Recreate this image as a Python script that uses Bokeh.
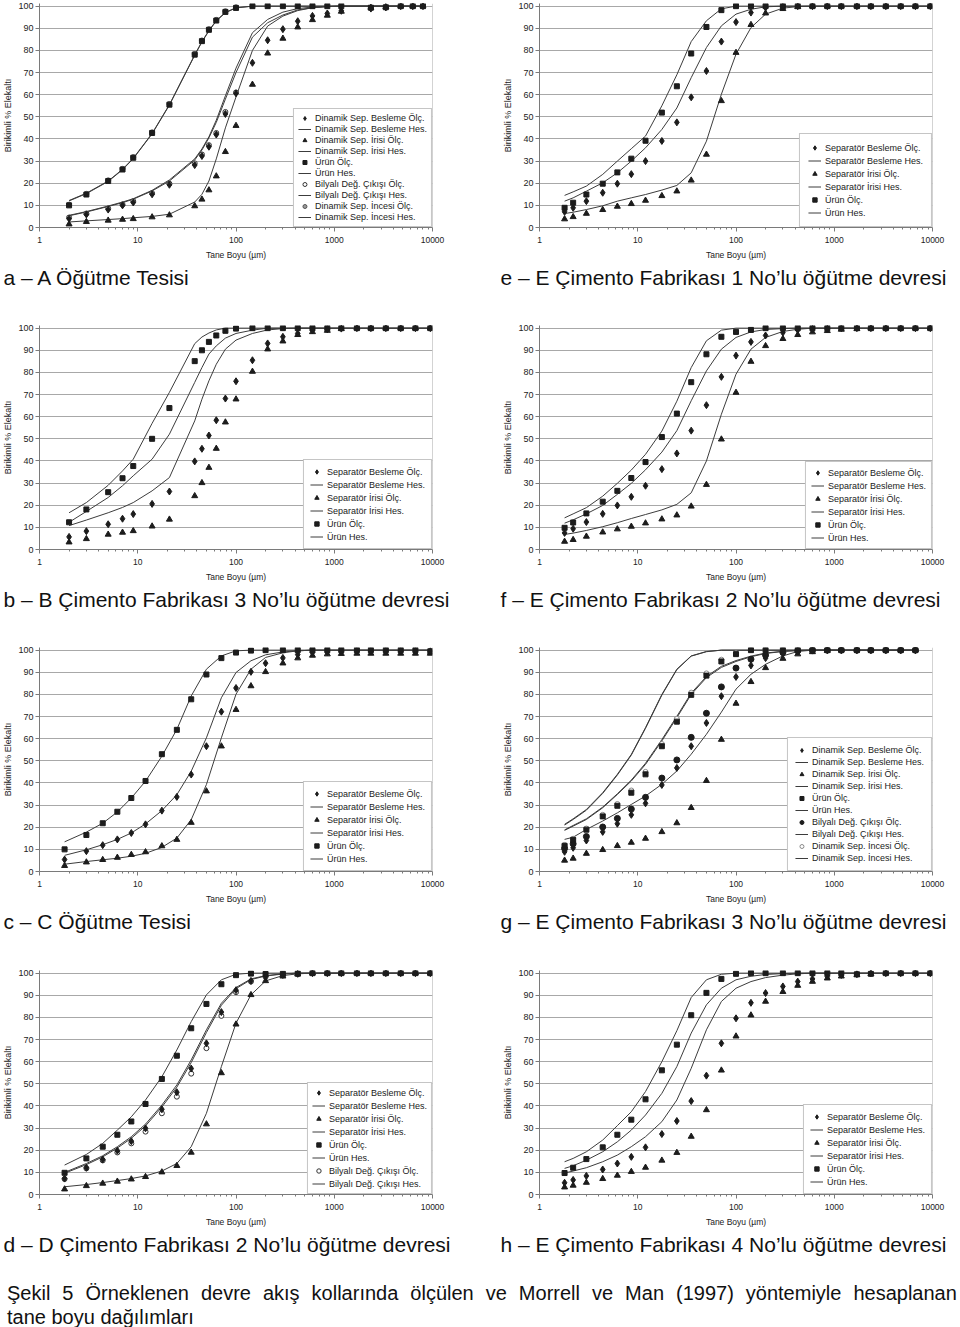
from bokeh.plotting import figure
from bokeh.models import (Range1d, FixedTicker, PrintfTickFormatter, Legend, LegendItem,
                          Span, Div)
from bokeh.layouts import column, row
from bokeh.embed import file_html
from bokeh.resources import INLINE

# ---------------- data ----------------
X_TICKS = [1, 10, 100, 1000, 10000]
Y_TICKS = [0, 10, 20, 30, 40, 50, 60, 70, 80, 90, 100]
X_LABEL = "Tane Boyu (µm)"
Y_LABEL = "Birikimli % Elekaltı"

# panel a
A_X = [2, 3, 5, 7, 9, 14, 21, 38, 45, 53, 63, 78, 100, 147, 210, 300, 425, 600, 850, 1180, 2360, 3350, 4750, 6300, 8000]
A_BES_O = [4.0, 5.9, 8.1, 10.0, 11.3, 15.0, 19.3, 28.2, 32.3, 36.5, 42.0, 51.3, 60.6, 74.4, 84.6, 89.6, 93.2, 95.6, 96.7, 97.9, 98.9, 99.4, 100, 100, 100]
A_IRI_O = [1.5, 2.6, 3.2, 3.6, 3.9, 4.7, 5.6, 9.7, 12.7, 16.9, 23.2, 34.2, 46.0, 64.6, 78.7, 85.4, 90.5, 93.8, 95.8, 97.6, 99.4, 99.7, 100, 100, 100]
A_URUN_O = [10.0, 14.9, 21.0, 26.2, 31.5, 42.7, 55.5, 78.1, 84.2, 89.3, 93.5, 97.4, 99.2, 100, 100, 100, 100, 100, 100, 100, 99.3, 99.5, 100, 100, 100]
A_BIL_X = [2, 3, 5, 7, 9, 14, 21, 38, 45, 53, 63, 78, 100]
A_BIL_O = [4.5, 6.3, 8.6, 10.4, 11.9, 15.5, 19.8, 29.0, 33.0, 37.2, 42.7, 52.2, 61.0]
A_INC_O = [10.3, 15.2, 21.3, 26.5, 31.8, 43.0, 55.8, 78.4, 84.5, 89.6, 93.8, 97.7, 99.5]
A_BES_H = [5.3, 7.0, 9.5, 11.2, 12.8, 16.5, 21.0, 30.5, 35.0, 40.5, 47.5, 58.0, 70.0, 86.0, 92.5, 96.0, 98.3, 99.3, 99.8, 100, 100, 100, 100, 100, 100]
A_BIL_H = [5.5, 7.2, 9.7, 11.5, 13.0, 16.8, 21.5, 31.0, 35.5, 41.0, 48.5, 59.5, 72.0, 88.0, 94.0, 97.3, 98.9, 99.6, 99.9, 100, 100, 100, 100, 100, 100]
A_IRI_H = [2.5, 3.0, 3.6, 4.0, 4.4, 5.0, 6.0, 11.5, 15.0, 21.0, 31.0, 45.0, 59.0, 80.0, 91.0, 95.5, 98.0, 99.3, 99.8, 100, 100, 100, 100, 100, 100]
A_URUN_H = [12.2, 15.5, 21.0, 26.3, 31.3, 42.5, 55.5, 78.0, 84.0, 89.0, 93.5, 97.2, 99.3, 100, 100, 100, 100, 100, 100, 100, 100, 100, 100, 100, 100]
A_INC_H = [12.0, 15.3, 20.8, 26.1, 31.1, 42.3, 55.3, 77.8, 83.8, 88.8, 93.3, 97.0, 99.2, 100, 100, 100, 100, 100, 100, 100, 100, 100, 100, 100, 100]

# panel e
E_X = [1.8, 2.2, 3, 4.4, 6.2, 8.6, 12, 17.6, 25, 35, 50, 71, 100, 142, 200, 300, 425, 600, 850, 1180, 1700, 2360, 3350, 4750, 6700, 9500]
E_BES_O = [7.1, 8.9, 11.9, 15.7, 19.8, 24.1, 30.0, 39.1, 47.5, 58.8, 70.7, 84.0, 92.8, 97.1, 99.4, 99.7, 100, 100, 100, 100, 100, 100, 100, 100, 100, 100]
E_IRI_O = [3.8, 4.8, 6.3, 8.0, 9.5, 10.7, 12.2, 14.3, 16.4, 21.3, 33.0, 57.2, 79.0, 91.6, 96.8, 98.8, 99.7, 100, 100, 100, 100, 100, 100, 100, 100, 100]
E_URUN_O = [8.9, 11.2, 14.9, 19.8, 24.9, 31.1, 39.2, 51.9, 63.8, 78.6, 90.6, 98.2, 100, 100, 100, 100, 100, 100, 100, 100, 100, 100, 100, 100, 100, 100]
E_BES_H = [11.9, 13.4, 16.4, 20.2, 24.7, 30.0, 36.0, 44.3, 54.0, 67.7, 81.3, 91.1, 96.4, 98.6, 99.7, 100, 100, 100, 100, 100, 100, 100, 100, 100, 100, 100]
E_IRI_H = [6.3, 6.9, 8.1, 9.8, 11.9, 13.4, 14.9, 16.9, 19.0, 24.7, 39.0, 60.2, 78.3, 90.3, 96.4, 99.1, 99.8, 100, 100, 100, 100, 100, 100, 100, 100, 100]
E_URUN_H = [14.5, 16.1, 18.7, 24.0, 30.0, 35.6, 41.3, 55.0, 69.0, 84.0, 93.4, 98.8, 100, 100, 100, 100, 100, 100, 100, 100, 100, 100, 100, 100, 100, 100]

# panel b
B_X = [2, 3, 5, 7, 9, 14, 21, 38, 45, 53, 63, 78, 100, 147, 210, 300, 425, 600, 850, 1180, 1700, 2360, 3350, 4750, 6700, 9500]
B_BES_O = [5.7, 8.3, 11.4, 13.9, 16.0, 20.6, 26.2, 39.8, 45.5, 51.5, 58.4, 68.2, 76.0, 85.5, 93.1, 96.1, 97.6, 99.1, 99.5, 99.8, 100, 100, 100, 100, 100, 100]
B_IRI_O = [3.3, 4.8, 6.8, 7.7, 8.4, 10.5, 13.6, 24.2, 30.1, 37.0, 45.6, 57.5, 67.9, 80.4, 90.5, 94.1, 97.0, 98.3, 98.9, 99.7, 100, 100, 100, 100, 100, 100]
B_URUN_O = [12.3, 18.1, 25.9, 32.2, 37.7, 50.0, 63.9, 85.1, 90.0, 93.8, 96.7, 98.8, 99.8, 100, 100, 100, 100, 100, 100, 100, 100, 100, 100, 100, 100, 100]
B_BES_H = [12.3, 17.2, 23.5, 28.8, 33.3, 40.8, 52.1, 75.5, 82.2, 88.3, 92.0, 95.5, 97.6, 99.1, 100, 100, 100, 100, 100, 100, 100, 100, 100, 100, 100, 100]
B_IRI_H = [10.8, 13.3, 16.6, 19.0, 21.2, 26.5, 32.5, 58.1, 67.9, 76.2, 83.7, 90.5, 94.6, 97.6, 99.2, 99.8, 100, 100, 100, 100, 100, 100, 100, 100, 100, 100]
B_URUN_H = [16.6, 21.2, 29.0, 35.5, 40.8, 57.0, 71.0, 93.0, 96.0, 97.8, 99.2, 100, 100, 100, 100, 100, 100, 100, 100, 100, 100, 100, 100, 100, 100, 100]

# panel f
F_X = [1.8, 2.2, 3, 4.4, 6.2, 8.6, 12, 17.6, 25, 35, 50, 71, 100, 142, 200, 300, 425, 600, 850, 1180, 1700, 2360, 3350, 4750, 6700, 9500]
F_BES_O = [7.5, 9.4, 12.4, 16.1, 19.9, 23.8, 28.8, 36.3, 43.4, 53.7, 65.2, 78.0, 87.6, 93.8, 96.7, 98.0, 99.2, 99.7, 99.8, 100, 100, 100, 100, 100, 100, 100]
F_IRI_O = [3.6, 4.4, 5.9, 7.8, 9.2, 10.4, 11.9, 13.7, 15.5, 19.5, 29.3, 49.8, 70.9, 84.9, 92.0, 95.2, 97.0, 98.2, 98.8, 99.4, 99.7, 100, 100, 100, 100, 100]
F_URUN_O = [9.8, 12.2, 16.3, 21.6, 26.5, 32.3, 39.5, 50.8, 61.4, 75.6, 88.2, 96.1, 98.3, 99.2, 100, 100, 100, 100, 100, 100, 100, 100, 100, 100, 100, 100]
F_BES_H = [11.9, 13.4, 16.1, 19.9, 24.9, 29.9, 36.0, 44.0, 53.7, 67.2, 80.7, 90.5, 95.8, 98.3, 99.4, 99.8, 100, 100, 100, 100, 100, 100, 100, 100, 100, 100]
F_IRI_H = [6.8, 7.4, 8.6, 10.3, 12.1, 14.0, 15.8, 17.9, 20.4, 25.6, 40.0, 61.1, 79.2, 90.5, 95.8, 98.5, 99.5, 100, 100, 100, 100, 100, 100, 100, 100, 100]
F_URUN_H = [14.3, 16.1, 18.9, 24.1, 29.9, 35.9, 43.0, 53.5, 67.0, 82.2, 94.3, 99.1, 100, 100, 100, 100, 100, 100, 100, 100, 100, 100, 100, 100, 100, 100]

# panel c
C_X = [1.8, 3, 4.4, 6.2, 8.6, 12, 17.6, 25, 35, 50, 71, 100, 142, 200, 300, 425, 600, 850, 1180, 1700, 2360, 3350, 4750, 6700, 9500]
C_BES_O = [5.4, 9.2, 11.9, 14.5, 17.4, 21.3, 27.5, 33.7, 43.8, 56.6, 72.2, 82.9, 90.2, 94.1, 96.5, 98.0, 98.9, 99.2, 99.4, 99.5, 99.5, 99.5, 99.5, 99.5, 99.5]
C_IRI_O = [2.6, 4.2, 5.3, 6.3, 7.6, 8.8, 11.5, 14.4, 22.1, 36.3, 56.6, 73.1, 83.8, 90.2, 94.1, 96.4, 97.6, 98.2, 98.4, 98.5, 98.5, 98.5, 98.5, 98.5, 98.5]
C_URUN_O = [10.0, 16.5, 21.8, 27.0, 33.2, 40.9, 53.0, 64.0, 77.8, 89.0, 96.4, 98.9, 99.8, 100, 100, 100, 100, 100, 100, 100, 100, 100, 100, 100, 99.5]
C_BES_H = [7.3, 9.8, 12.1, 14.5, 17.4, 21.5, 27.5, 34.7, 45.3, 60.4, 78.5, 89.9, 95.2, 97.9, 99.2, 99.7, 100, 100, 100, 100, 100, 100, 100, 100, 100]
C_IRI_H = [3.3, 4.5, 5.3, 6.0, 6.9, 8.2, 10.9, 15.1, 23.4, 39.3, 60.4, 80.1, 91.4, 96.7, 98.8, 99.7, 100, 100, 100, 100, 100, 100, 100, 100, 100]
C_URUN_H = [13.4, 17.8, 21.8, 26.9, 33.2, 40.8, 52.1, 64.2, 79.3, 91.4, 97.4, 99.7, 100, 100, 100, 100, 100, 100, 100, 100, 100, 100, 100, 100, 100]

# panel g
G_X = [1.8, 2.2, 3, 4.4, 6.2, 8.6, 12, 17.6, 25, 35, 50, 71, 100, 142, 200, 300, 425, 600, 850, 1180, 1700, 2360, 3350, 4750, 6700]
G_BES_O = [8.9, 10.7, 14.0, 17.9, 21.6, 25.6, 30.8, 39.1, 46.8, 56.6, 67.1, 79.2, 87.9, 93.1, 96.4, 98.5, 99.4, 99.8, 100, 100, 100, 100, 100, 100, 100]
G_IRI_O = [5.0, 5.9, 8.1, 9.8, 11.6, 13.1, 14.9, 17.9, 21.9, 28.8, 41.0, 59.6, 75.9, 85.7, 92.0, 96.2, 98.2, 99.2, 99.8, 100, 100, 100, 100, 100, 100]
G_URUN_O = [11.6, 14.3, 18.9, 24.9, 29.7, 35.6, 43.9, 56.6, 67.7, 79.8, 88.5, 94.9, 98.2, 100, 100, 100, 100, 100, 100, 100, 100, 100, 100, 100, 100]
G_BIL_O = [10.4, 12.5, 15.8, 20.1, 24.0, 28.2, 33.5, 42.2, 50.4, 60.6, 71.5, 83.4, 91.9, 95.9, 97.7, 98.9, 99.7, 100, 100, 100, 100, 100, 100, 100, 100]
G_INC_O = [12.0, 14.8, 19.4, 25.6, 30.5, 36.6, 45.0, 57.6, 69.0, 80.8, 89.5, 95.7, 98.6, 100, 100, 100, 100, 100, 100, 100, 100, 100, 100, 100, 100]
G_BES_H = [18.6, 20.5, 23.5, 28.8, 34.8, 40.9, 48.4, 59.0, 69.5, 80.0, 87.6, 92.2, 94.9, 97.0, 98.5, 99.4, 99.8, 100, 100, 100, 100, 100, 100, 100, 100]
G_BIL_H = [18.8, 20.8, 23.8, 29.1, 35.1, 41.3, 48.9, 59.6, 70.1, 80.6, 88.1, 92.7, 95.3, 97.3, 98.7, 99.5, 99.9, 100, 100, 100, 100, 100, 100, 100, 100]
G_IRI_H = [14.5, 15.5, 19.0, 22.8, 26.5, 30.3, 34.1, 39.4, 45.4, 53.0, 62.0, 72.0, 82.4, 89.1, 93.6, 97.4, 99.4, 100, 100, 100, 100, 100, 100, 100, 100]
G_URUN_H = [21.3, 23.8, 28.0, 35.6, 43.9, 52.9, 65.0, 80.0, 91.4, 97.4, 99.4, 100, 100, 100, 100, 100, 100, 100, 100, 100, 100, 100, 100, 100, 100]
G_INC_H = [21.0, 23.5, 27.7, 35.3, 43.6, 52.6, 64.7, 79.7, 91.2, 97.3, 99.3, 100, 100, 100, 100, 100, 100, 100, 100, 100, 100, 100, 100, 100, 100]

# panel d
D_X = [1.8, 3, 4.4, 6.2, 8.6, 12, 17.6, 25, 35, 50, 71, 100, 142, 200, 300, 425, 600, 850, 1180, 1700, 2360, 3350, 4750, 6700, 9500]
D_BES_O = [7.2, 12.1, 15.8, 19.8, 24.1, 29.9, 38.5, 46.2, 56.9, 68.3, 82.4, 92.3, 96.5, 98.5, 99.2, 99.7, 100, 100, 100, 100, 100, 100, 100, 100, 100]
D_IRI_O = [2.4, 3.9, 5.0, 5.9, 6.9, 8.0, 10.1, 13.0, 19.0, 31.8, 54.9, 76.9, 90.2, 96.5, 98.6, 99.5, 100, 100, 100, 100, 100, 100, 100, 100, 100]
D_URUN_O = [9.8, 16.3, 21.6, 27.0, 33.0, 40.9, 52.2, 62.7, 75.1, 86.1, 95.0, 99.1, 99.8, 99.6, 99.7, 99.8, 100, 100, 100, 100, 100, 100, 100, 100, 100]
D_BIL_X = [1.8, 3, 4.4, 6.2, 8.6, 12, 17.6, 25, 35, 50, 71, 100, 142, 200, 300, 425]
D_BIL_O = [7.0, 11.8, 15.4, 19.0, 23.1, 28.4, 36.7, 44.2, 54.6, 66.1, 80.7, 91.4, 96.2, 98.3, 99.2, 99.7]
D_BES_H = [10.0, 14.0, 17.5, 21.6, 26.1, 31.8, 40.4, 49.5, 60.8, 74.4, 86.4, 93.5, 97.4, 98.9, 99.7, 100, 100, 100, 100, 100, 100, 100, 100, 100, 100]
D_BIL_H = [9.6, 13.5, 17.0, 21.0, 25.4, 31.0, 39.5, 48.5, 59.6, 73.2, 85.5, 93.0, 97.1, 98.7, 99.6, 100, 100, 100, 100, 100, 100, 100, 100, 100, 100]
D_IRI_H = [3.5, 4.5, 5.4, 6.3, 7.2, 8.4, 10.6, 14.0, 21.6, 36.7, 57.8, 77.4, 90.2, 96.5, 98.9, 99.7, 100, 100, 100, 100, 100, 100, 100, 100, 100]
D_URUN_H = [13.3, 18.1, 23.1, 29.1, 35.1, 42.7, 53.2, 65.3, 78.1, 90.2, 97.0, 99.5, 100, 100, 100, 100, 100, 100, 100, 100, 100, 100, 100, 100, 100]

# panel h
H_X = [1.8, 2.2, 3, 4.4, 6.2, 8.6, 12, 17.6, 25, 35, 50, 71, 100, 142, 200, 300, 425, 600, 850, 1180, 1700, 2360, 3350, 4750, 6700, 9500]
H_BES_O = [5.3, 6.6, 8.4, 11.3, 14.0, 17.0, 21.3, 27.3, 33.2, 42.2, 53.7, 68.3, 79.6, 86.6, 91.0, 94.0, 96.2, 97.4, 98.5, 99.2, 99.5, 100, 100, 100, 100, 100]
H_IRI_O = [3.3, 4.1, 5.4, 7.1, 8.6, 10.3, 12.2, 15.4, 18.9, 26.2, 38.2, 56.1, 71.5, 81.0, 87.2, 91.6, 94.4, 96.2, 97.7, 98.6, 99.2, 99.7, 100, 100, 100, 100]
H_URUN_O = [9.7, 12.1, 16.0, 21.3, 27.0, 33.8, 43.0, 56.1, 67.7, 81.0, 91.1, 97.4, 99.7, 100, 100, 100, 100, 100, 100, 100, 99.5, 99.7, 100, 100, 100, 100]
H_BES_H = [11.8, 13.0, 15.5, 19.3, 23.8, 29.1, 35.9, 45.7, 57.8, 72.9, 85.7, 93.2, 97.0, 98.6, 99.4, 99.8, 100, 100, 100, 100, 100, 100, 100, 100, 100, 100]
H_IRI_H = [9.7, 10.6, 12.1, 14.8, 17.8, 21.6, 26.1, 32.9, 42.7, 57.0, 74.4, 87.2, 93.2, 96.2, 98.0, 99.1, 99.7, 100, 100, 100, 100, 100, 100, 100, 100, 100]
H_URUN_H = [14.8, 16.3, 19.3, 24.6, 31.1, 37.4, 46.5, 60.0, 74.0, 89.0, 97.0, 99.5, 100, 100, 100, 100, 100, 100, 100, 100, 100, 100, 100, 100, 100, 100]

CAPTIONS = {
    "a": "a – A Öğütme Tesisi",
    "e": "e – E Çimento Fabrikası 1 No’lu öğütme devresi",
    "b": "b – B Çimento Fabrikası 3 No’lu öğütme devresi",
    "f": "f – E Çimento Fabrikası 2 No’lu öğütme devresi",
    "c": "c – C Öğütme Tesisi",
    "g": "g – E Çimento Fabrikası 3 No’lu öğütme devresi",
    "d": "d – D Çimento Fabrikası 2 No’lu öğütme devresi",
    "h": "h – E Çimento Fabrikası 4 No’lu öğütme devresi",
}
FIG_LINE1 = "Şekil 5 Örneklenen devre akış kollarında ölçülen ve Morrell ve Man (1997) yöntemiyle hesaplanan"
FIG_LINE2 = "tane boyu dağılımları"

# ---------------- styling ----------------
FONT = "Liberation Sans"
INK = "#1c1c1c"
LINE_C = "#3c3c3c"
GRID_C = "#a8a8a8"
AXIS_C = "#7a7a7a"

MARK = {
    "bes": dict(marker="diamond", size=7, fill_color=INK, line_color=INK),
    "iri": dict(marker="triangle", size=6, fill_color=INK, line_color=INK),
    "urun": dict(marker="square", size=5, fill_color=INK, line_color=INK),
    "bil_open": dict(marker="circle", size=5, fill_color="white", line_color="#333333"),
    "bil_fill": dict(marker="circle", size=6, fill_color=INK, line_color=INK),
    "inc_gray": dict(marker="circle", size=5, fill_color="#9a9a9a", line_color="#555555"),
    "inc_open": dict(marker="circle", size=5, fill_color="white", line_color="#8a8a8a"),
}
DRAW_ORDER = ["inc_gray", "inc_open", "bil_open", "bil_fill", "iri", "bes", "urun"]

MINOR = [m * d for d in (1, 10, 100, 1000) for m in range(2, 10)]


def panel(key, col, series, leg, height):
    left_b = 39 if col == 0 else 59
    right_b = 48 if col == 0 else 28
    top_b = 3
    frame_h = 224
    p = figure(width=480, height=height, x_axis_type="log",
               x_range=Range1d(1, 10000), y_range=Range1d(0, 101.2),
               output_backend="svg", toolbar_location=None,
               title=CAPTIONS[key], title_location="below",
               min_border_left=left_b, min_border_right=right_b,
               min_border_top=top_b, min_border_bottom=height - top_b - frame_h,
               background_fill_color="white", border_fill_color="white",
               outline_line_color=None)
    p.title.text_font = FONT
    p.title.text_font_size = "21px"
    p.title.text_font_style = "normal"
    p.title.text_color = "#111111"
    p.title.align = "left"
    p.title.offset = -36 if col == 0 else -39
    p.title.standoff = 3

    p.xgrid.visible = False
    p.ygrid.grid_line_color = GRID_C
    p.ygrid.ticker = FixedTicker(ticks=Y_TICKS)

    xa = p.xaxis[0]
    xa.ticker = FixedTicker(ticks=X_TICKS, minor_ticks=MINOR)
    xa.formatter = PrintfTickFormatter(format="%d")
    xa.axis_label = X_LABEL
    xa.axis_label_text_font = FONT
    xa.axis_label_text_font_size = "8.5px"
    xa.axis_label_text_font_style = "normal"
    xa.axis_label_text_color = "#222222"
    xa.axis_label_standoff = 4
    xa.major_label_text_font = FONT
    xa.major_label_text_font_size = "8.5px"
    xa.major_label_text_color = "#222222"
    xa.major_label_standoff = 5
    xa.axis_line_color = AXIS_C
    xa.major_tick_line_color = AXIS_C
    xa.minor_tick_line_color = AXIS_C
    xa.major_tick_in = 0
    xa.major_tick_out = 4
    xa.minor_tick_in = 0
    xa.minor_tick_out = 2

    ya = p.yaxis[0]
    ya.ticker = FixedTicker(ticks=Y_TICKS)
    ya.axis_label = Y_LABEL
    ya.axis_label_text_font = FONT
    ya.axis_label_text_font_size = "9px"
    ya.axis_label_text_font_style = "normal"
    ya.axis_label_text_color = "#222222"
    ya.axis_label_standoff = 2
    ya.major_label_text_font = FONT
    ya.major_label_text_font_size = "9px"
    ya.major_label_text_color = "#222222"
    ya.major_label_standoff = 2
    ya.axis_line_color = AXIS_C
    ya.major_tick_line_color = AXIS_C
    ya.minor_tick_line_color = None
    ya.major_tick_in = 0
    ya.major_tick_out = 4

    p.add_layout(Span(location=10000, dimension="height", line_color=GRID_C, line_width=1))

    rends = [None] * len(series)
    for i, (label, kind, xs, ys) in enumerate(series):
        if kind == "line":
            rends[i] = p.line(xs, ys, line_color=LINE_C, line_width=1)
    for mk in DRAW_ORDER:
        for i, (label, kind, xs, ys) in enumerate(series):
            if kind == mk:
                rends[i] = p.scatter(xs, ys, **MARK[kind])
    items = [LegendItem(label=s[0], renderers=[r]) for s, r in zip(series, rends)]

    lg = Legend(items=items, location="bottom_right", margin=0,
                padding=leg["padding"], spacing=leg["spacing"],
                label_height=leg["h"], glyph_height=leg["h"], glyph_width=13,
                label_standoff=4, label_text_font=FONT, label_text_font_size="9px",
                label_text_color="#1a1a1a", border_line_color="#8c8c8c",
                border_line_width=1, background_fill_color="white",
                background_fill_alpha=1.0)
    p.add_layout(lg)
    return p


def sep_series(x, bo, bh, io, ih, uo, uh):
    return [("Separatör Besleme Ölç.", "bes", x, bo),
            ("Separatör Besleme Hes.", "line", x, bh),
            ("Separatör İrisi Ölç.", "iri", x, io),
            ("Separatör İrisi Hes.", "line", x, ih),
            ("Ürün Ölç.", "urun", x, uo),
            ("Ürün Hes.", "line", x, uh)]


ROW_H = [322, 322, 323, 306]

pa = panel("a", 0, [
    ("Dinamik Sep. Besleme Ölç.", "bes", A_X, A_BES_O),
    ("Dinamik Sep. Besleme Hes.", "line", A_X, A_BES_H),
    ("Dinamik Sep. İrisi Ölç.", "iri", A_X, A_IRI_O),
    ("Dinamik Sep. İrisi Hes.", "line", A_X, A_IRI_H),
    ("Ürün Ölç.", "urun", A_X, A_URUN_O),
    ("Ürün Hes.", "line", A_X, A_URUN_H),
    ("Bilyalı Değ. Çıkışı Ölç.", "bil_open", A_BIL_X, A_BIL_O),
    ("Bilyalı Değ. Çıkışı Hes.", "line", A_X, A_BIL_H),
    ("Dinamik Sep. İncesi Ölç.", "inc_gray", A_BIL_X, A_INC_O),
    ("Dinamik Sep. İncesi Hes.", "line", A_X, A_INC_H),
], dict(padding=4, spacing=1, h=10), ROW_H[0])

pe = panel("e", 1, sep_series(E_X, E_BES_O, E_BES_H, E_IRI_O, E_IRI_H, E_URUN_O, E_URUN_H),
           dict(padding=8, spacing=2, h=11), ROW_H[0])
pb = panel("b", 0, sep_series(B_X, B_BES_O, B_BES_H, B_IRI_O, B_IRI_H, B_URUN_O, B_URUN_H),
           dict(padding=6, spacing=2, h=11), ROW_H[1])
pf = panel("f", 1, sep_series(F_X, F_BES_O, F_BES_H, F_IRI_O, F_IRI_H, F_URUN_O, F_URUN_H),
           dict(padding=5, spacing=2, h=11), ROW_H[1])
pc = panel("c", 0, sep_series(C_X, C_BES_O, C_BES_H, C_IRI_O, C_IRI_H, C_URUN_O, C_URUN_H),
           dict(padding=6, spacing=2, h=11), ROW_H[2])

pg = panel("g", 1, [
    ("Dinamik Sep. Besleme Ölç.", "bes", G_X, G_BES_O),
    ("Dinamik Sep. Besleme Hes.", "line", G_X, G_BES_H),
    ("Dinamik Sep. İrisi Ölç.", "iri", G_X, G_IRI_O),
    ("Dinamik Sep. İrisi Hes.", "line", G_X, G_IRI_H),
    ("Ürün Ölç.", "urun", G_X, G_URUN_O),
    ("Ürün Hes.", "line", G_X, G_URUN_H),
    ("Bilyalı Değ. Çıkışı Ölç.", "bil_fill", G_X, G_BIL_O),
    ("Bilyalı Değ. Çıkışı Hes.", "line", G_X, G_BIL_H),
    ("Dinamik Sep. İncesi Ölç.", "inc_open", G_X, G_INC_O),
    ("Dinamik Sep. İncesi Hes.", "line", G_X, G_INC_H),
], dict(padding=7, spacing=2, h=10), ROW_H[2])

pd_ = panel("d", 0, sep_series(D_X, D_BES_O, D_BES_H, D_IRI_O, D_IRI_H, D_URUN_O, D_URUN_H) + [
    ("Bilyalı Değ. Çıkışı Ölç.", "bil_open", D_BIL_X, D_BIL_O),
    ("Bilyalı Değ. Çıkışı Hes.", "line", D_X, D_BIL_H),
], dict(padding=4, spacing=2, h=11), ROW_H[3])

ph = panel("h", 1, sep_series(H_X, H_BES_O, H_BES_H, H_IRI_O, H_IRI_H, H_URUN_O, H_URUN_H),
           dict(padding=6, spacing=2, h=11), ROW_H[3])

words = "".join('<span>' + w + '</span>' for w in FIG_LINE1.split(" "))
cap_html = (
    '<div style="width:952px;padding-left:2px;padding-top:3px;font-family:\'Liberation Sans\',sans-serif;'
    'font-size:20px;line-height:24px;color:#111;">'
    '<div style="display:flex;justify-content:space-between;white-space:nowrap;">' + words + '</div>'
    '<div>' + FIG_LINE2 + '</div></div>'
)
cap = Div(text=cap_html, width=960, height=52)

layout = column(row(pa, pe), row(pb, pf), row(pc, pg), row(pd_, ph), cap)

open("out.html", "w").write(file_html(layout, INLINE))
